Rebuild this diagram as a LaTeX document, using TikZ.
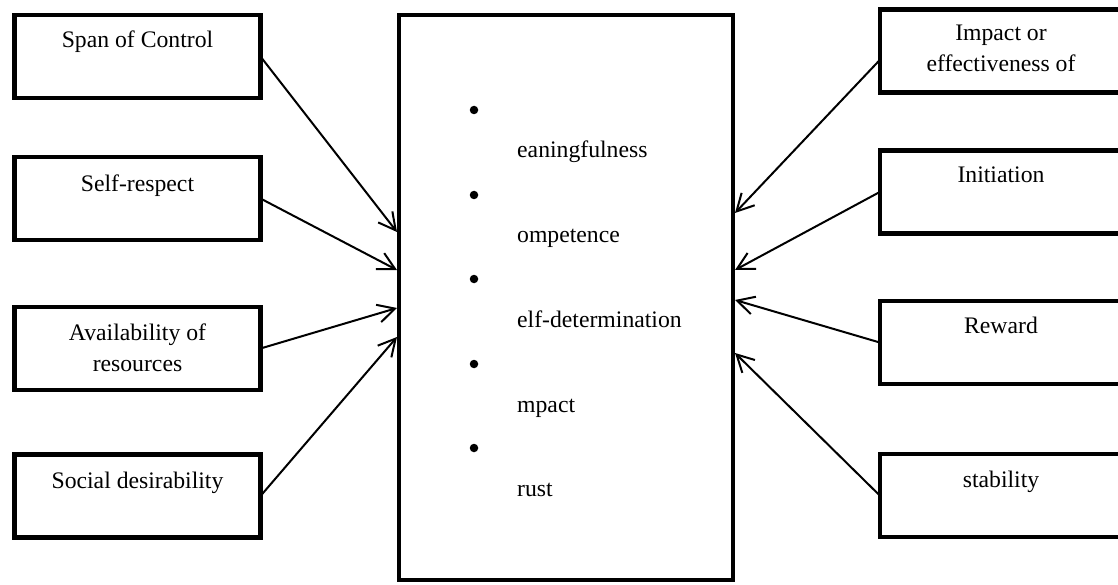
\documentclass[tikz,border=0pt]{standalone}
\usepackage{fontspec}
\setmainfont{Liberation Serif}
\usetikzlibrary{arrows.meta}
\begin{document}
\begin{tikzpicture}[x=1pt,y=-1pt,
  box/.style={draw,line width=4.5pt,minimum width=246pt,minimum height=83pt,inner sep=0pt,outer sep=0pt},
  cbox/.style={draw,line width=4pt,minimum width=334pt,minimum height=565pt,inner sep=0pt,outer sep=0pt},
  txt/.style={anchor=base,inner sep=0pt,font=\fontsize{23.7}{31}\selectfont,align=center},
  ltxt/.style={anchor=base west,inner sep=0pt,font=\fontsize{23.7}{31}\selectfont},
  dot/.style={circle,fill,inner sep=0pt,minimum size=8.5pt},
  arr/.style={line width=2pt,-{Straight Barb[length=17pt,width=18pt]}}
]
\useasboundingbox (0,0) rectangle (1118,585);

% central box
\node[cbox] (c) at (566,297.5) {};

% left boxes
\node[box] (span) at (137.5,56.5) {};
\node[box] (self) at (137.5,198.5) {};
\node[box] (avail) at (137.5,348.5) {};
\node[box] (soc) at (137.5,496) {};
\node[txt] (spant) at (137.5,48) {Span of Control};
\node[txt] (selft) at (137.5,192) {Self-respect};
\node[txt] (availt) at (137.5,371) {Availability of\\resources};
\node[txt] (soct) at (137.5,488) {Social desirability};

% right boxes
\node[box] (imp) at (1002.75,51) {};
\node[box] (ini) at (1002.75,192) {};
\node[box] (rew) at (1002.75,342.5) {};
\node[box] (stab) at (1002.75,495.5) {};
\node[txt] (impt) at (1001,72) {Impact or\\effectiveness of};
\node[txt] (init) at (1001,183) {Initiation};
\node[txt] (rewt) at (1001,333) {Reward};
\node[txt] (stabt) at (1001,487) {stability};

% bullet list
\foreach \i/\t/\yb in {1/eaningfulness/110,2/ompetence/195,3/elf-determination/279,4/mpact/364,5/rust/448}{
  \node[dot] (b\i) at (474,\yb) {};
  \node[ltxt] (t\i) at (517,\yb+48) {\t};
}

% arrow end points on the central box
\coordinate (l1) at (397,232);
\coordinate (l2) at (397,270);
\coordinate (l3) at (397,308);
\coordinate (l4) at (397,337);
\coordinate (r1) at (735,213);
\coordinate (r2) at (735,270);
\coordinate (r3) at (735,300);
\coordinate (r4) at (735,353);

\draw[arr] (span.east) -- (l1);
\draw[arr] (self.east) -- (l2);
\draw[arr] (avail.east) -- (l3);
\draw[arr] (soc.east) -- (l4);
\draw[arr] (imp.west |- 0,60) -- (r1);
\draw[arr] (ini.west) -- (r2);
\draw[arr] (rew.west) -- (r3);
\draw[arr] (stab.west) -- (r4);
\end{tikzpicture}
\end{document}
